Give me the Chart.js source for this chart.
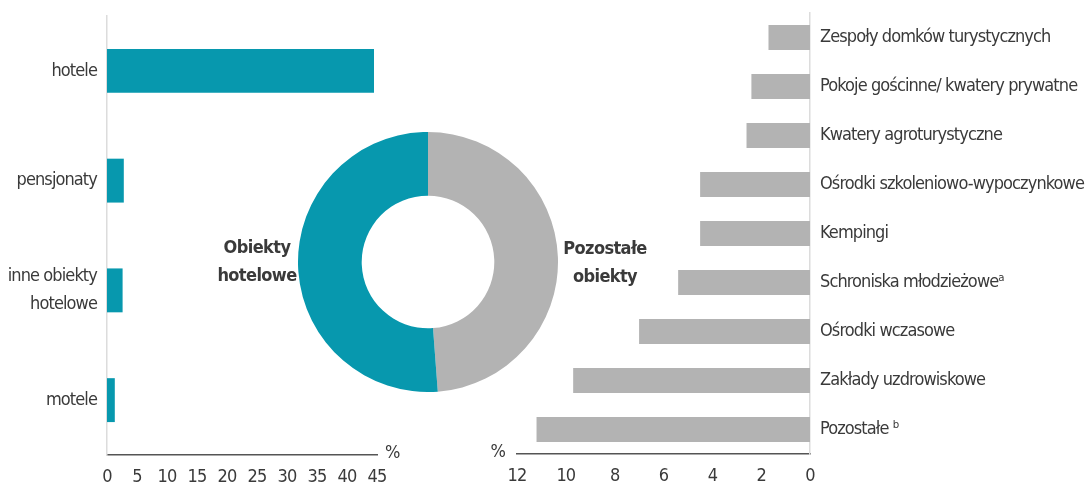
<!DOCTYPE html>
<html>
<head>
<meta charset="utf-8">
<script src="https://cdn.jsdelivr.net/npm/chart.js@4"></script>
<style>
  html, body { margin: 0; padding: 0; background: #fff; }
  #wrap { position: relative; width: 1088px; height: 486px; overflow: hidden; }
  canvas { position: absolute; }
  .ring-label {
    position: absolute; width: 160px; text-align: center;
    font-family: 'DejaVu Sans Condensed', 'Liberation Sans Narrow', sans-serif;
    font-weight: bold; font-size: 18px; letter-spacing: -0.6px; line-height: 28px; color: #3a3a3a;
  }
</style>
</head>
<body>
<div id="wrap">
  <canvas id="hotel-chart" width="420" height="486" style="left:0;top:0"></canvas>
  <canvas id="other-chart" width="618" height="486" style="left:470px;top:0"></canvas>
  <canvas id="share-chart" width="260" height="260" style="left:298px;top:132px"></canvas>
  <div class="ring-label" style="left:177px;top:233px">Obiekty<br>hotelowe</div>
  <div class="ring-label" style="left:525px;top:234px">Pozostałe<br>obiekty</div>
</div>
<script>
// dane (%)
const hotelCats = ['hotele', 'pensjonaty', ['inne obiekty', 'hotelowe'], 'motele'];
const hotelVals = [44.5, 2.8, 2.6, 1.3];

const otherCats = [
    'Zespoły domków turystycznych',
    'Pokoje gościnne/ kwatery prywatne',
    'Kwatery agroturystyczne',
    'Ośrodki szkoleniowo-wypoczynkowe',
    'Kempingi',
    'Schroniska młodzieżoweᵃ',
    'Ośrodki wczasowe',
    'Zakłady uzdrowiskowe',
    'Pozostałe ᵇ'
];
const otherVals = [1.7, 2.4, 2.6, 4.5, 4.5, 5.4, 7.0, 9.7, 11.2];

const shareLabels = ['Pozostałe obiekty', 'Obiekty hotelowe'];
const shareVals = [48.8, 51.2];

const hotelTicks = [0, 45, 5];   // min, max, krok
const otherTicks = [0, 12, 2];

const TEAL = '#0798ae';
const GREY = '#b3b3b3';
const TEXT = '#3a3a3a';
const FONT = "'DejaVu Sans Condensed', 'Liberation Sans Narrow', sans-serif";

Chart.defaults.font.family = FONT;
Chart.defaults.font.size = 18;
Chart.defaults.color = TEXT;
Chart.defaults.animation = false;
Chart.defaults.plugins.legend.display = false;
Chart.defaults.plugins.tooltip.enabled = false;

// węższy tekst - brak czcionki condensed jak w oryginale
const tightText = {
    id: 'tightText',
    beforeLayout(chart) { chart.ctx.letterSpacing = '-0.9px'; },
    beforeDraw(chart) { chart.ctx.letterSpacing = '-0.9px'; }
};

// znak % przy końcu osi
function percentSign(side) {
    return {
        id: 'percentSign',
        afterDraw(chart) {
            const { ctx, chartArea } = chart;
            ctx.save();
            ctx.font = '18px ' + FONT;
            ctx.fillStyle = TEXT;
            ctx.textBaseline = 'middle';
            if (side === 'right') {
                ctx.textAlign = 'left';
                ctx.fillText('%', chartArea.right + 8, chartArea.bottom - 2);
            } else {
                ctx.textAlign = 'right';
                ctx.fillText('%', chartArea.left - 12, chartArea.bottom - 2);
            }
            ctx.restore();
        }
    };
}

function barChart(id, cats, vals, color, ticks, opts) {
    return new Chart(document.getElementById(id), {
        type: 'bar',
        data: {
            labels: cats,
            datasets: [{
                data: vals,
                backgroundColor: color,
                borderWidth: 0,
                categoryPercentage: 1,
                barPercentage: opts.barPct
            }]
        },
        options: {
            indexAxis: 'y',
            responsive: false,
            layout: { padding: opts.padding },
            scales: {
                x: {
                    min: ticks[0],
                    max: ticks[1],
                    reverse: opts.reverse,
                    grid: { display: false, drawTicks: false },
                    border: { display: true, color: '#555', width: 1.5 },
                    ticks: { stepSize: ticks[2], padding: 12, maxRotation: 0, autoSkip: false },
                    afterFit: s => { s.height = opts.xHeight; s.paddingLeft = 0; s.paddingRight = 0; }
                },
                y: {
                    position: opts.yPos,
                    grid: { display: false, drawTicks: false },
                    border: { display: true, color: '#dcdcdc', width: 1.5 },
                    ticks: { padding: 10, autoSkip: false, font: { lineHeight: opts.lineHeight } },
                    afterFit: s => { s.width = opts.yWidth; s.paddingTop = 0; s.paddingBottom = 0; }
                }
            }
        },
        plugins: [tightText, percentSign(opts.pctSide)]
    });
}

barChart('hotel-chart', hotelCats, hotelVals, TEAL, hotelTicks, {
    barPct: 0.4, reverse: false, yPos: 'left', yWidth: 107, xHeight: 31, lineHeight: 1.55,
    padding: { top: 16, right: 43, left: 0, bottom: 0 }, pctSide: 'right'
});

barChart('other-chart', otherCats, otherVals, GREY, otherTicks, {
    barPct: 0.51, reverse: true, yPos: 'right', yWidth: 278, xHeight: 32, lineHeight: 1.2,
    padding: { top: 13, right: 0, left: 47, bottom: 0 }, pctSide: 'left'
});

new Chart(document.getElementById('share-chart'), {
    type: 'doughnut',
    data: {
        labels: shareLabels,
        datasets: [{
            data: shareVals,
            backgroundColor: [GREY, TEAL],
            borderWidth: 0,
            hoverOffset: 0
        }]
    },
    options: {
        responsive: false,
        cutout: '51%',
        rotation: 0
    }
});
</script>
</body>
</html>
